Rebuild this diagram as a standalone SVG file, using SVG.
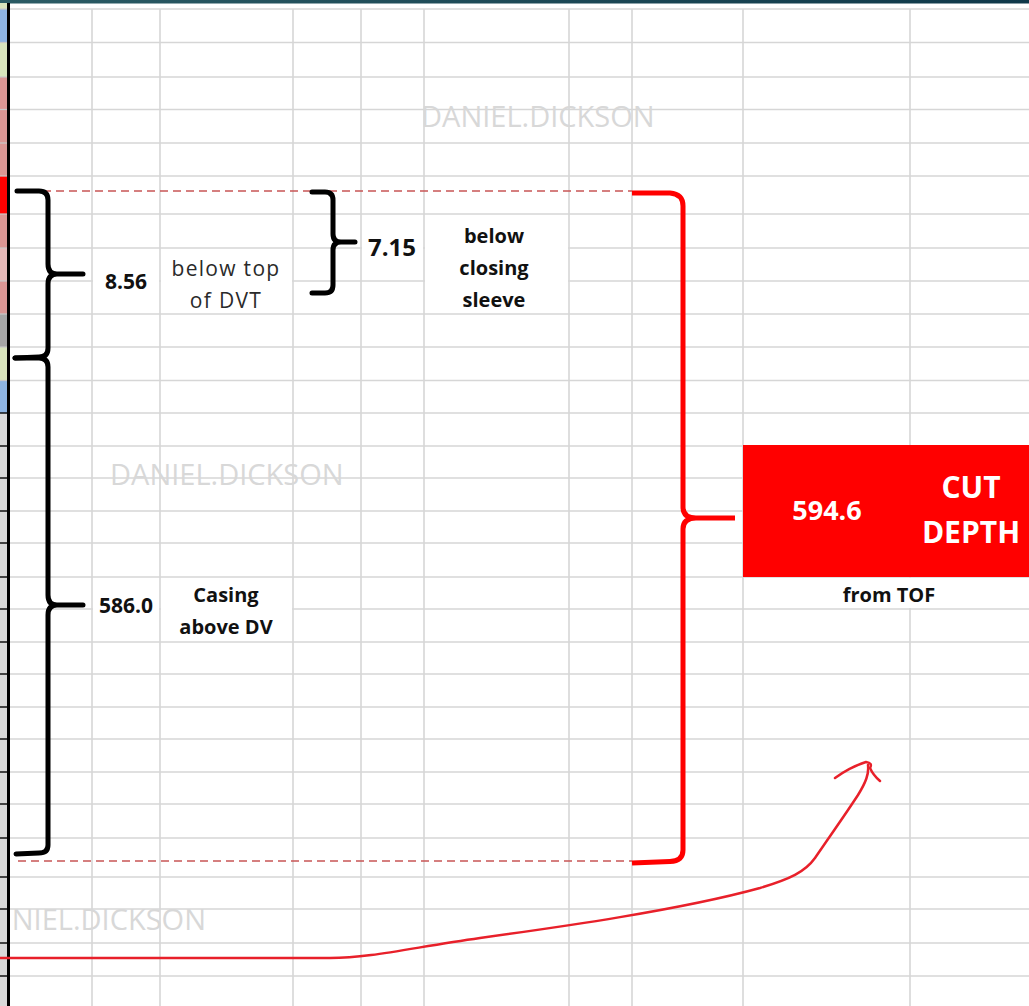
<svg xmlns="http://www.w3.org/2000/svg" width="1029" height="1006" viewBox="0 0 1029 1006">
<defs>
<linearGradient id="topbar" x1="0" y1="0" x2="1" y2="0">
<stop offset="0" stop-color="#2b5b64"/>
<stop offset="1" stop-color="#0f3849"/>
</linearGradient>
</defs>
<style>
.grid line{stroke:#d6d6d6;stroke-width:1.6}
.brk{fill:none;stroke:#000;stroke-width:5;stroke-linecap:round;stroke-linejoin:round}
.rbrk{fill:none;stroke:#ff0000;stroke-width:5;stroke-linecap:butt;stroke-linejoin:round}
.dash{fill:none;stroke:#c85656;stroke-width:1.6;stroke-dasharray:8 5}
.arrow{fill:none;stroke:#e8202a;stroke-width:2.5;stroke-linecap:round;stroke-linejoin:round}
.b{font-family:"Open Sans","Liberation Sans",sans-serif;font-weight:bold;fill:#111}
.r{font-family:"Open Sans","Liberation Sans",sans-serif;font-weight:normal;fill:#2a2a2a;letter-spacing:1.3px}
.w{font-family:"Open Sans","Liberation Sans",sans-serif;font-weight:bold;fill:#fff}
.wm{font-family:"Open Sans","Liberation Sans",sans-serif;font-size:29px;fill:#d8d8d8}
.c{text-anchor:middle}
</style>
<rect x="0" y="0" width="1029" height="1006" fill="#fff"/>
<g id="grid" class="grid">
<line x1="10" y1="9" x2="1029" y2="9"/>
<line x1="10" y1="42.5" x2="1029" y2="42.5"/>
<line x1="10" y1="77" x2="1029" y2="77"/>
<line x1="10" y1="109.5" x2="1029" y2="109.5"/>
<line x1="10" y1="143" x2="1029" y2="143"/>
<line x1="10" y1="176" x2="1029" y2="176"/>
<line x1="10" y1="214" x2="1029" y2="214"/>
<line x1="10" y1="248" x2="1029" y2="248"/>
<line x1="10" y1="281" x2="1029" y2="281"/>
<line x1="10" y1="314" x2="1029" y2="314"/>
<line x1="10" y1="347" x2="1029" y2="347"/>
<line x1="10" y1="380.5" x2="1029" y2="380.5"/>
<line x1="10" y1="413" x2="1029" y2="413"/>
<line x1="10" y1="446" x2="1029" y2="446"/>
<line x1="10" y1="478" x2="1029" y2="478"/>
<line x1="10" y1="511" x2="1029" y2="511"/>
<line x1="10" y1="543" x2="1029" y2="543"/>
<line x1="10" y1="577" x2="1029" y2="577"/>
<line x1="10" y1="609" x2="1029" y2="609"/>
<line x1="10" y1="642" x2="1029" y2="642"/>
<line x1="10" y1="674" x2="1029" y2="674"/>
<line x1="10" y1="707" x2="1029" y2="707"/>
<line x1="10" y1="739" x2="1029" y2="739"/>
<line x1="10" y1="772" x2="1029" y2="772"/>
<line x1="10" y1="804" x2="1029" y2="804"/>
<line x1="10" y1="838" x2="1029" y2="838"/>
<line x1="10" y1="877" x2="1029" y2="877"/>
<line x1="10" y1="909" x2="1029" y2="909"/>
<line x1="10" y1="943" x2="1029" y2="943"/>
<line x1="10" y1="976" x2="1029" y2="976"/>
<line x1="92" y1="9" x2="92" y2="1006"/>
<line x1="160" y1="9" x2="160" y2="1006"/>
<line x1="293" y1="9" x2="293" y2="1006"/>
<line x1="361" y1="9" x2="361" y2="1006"/>
<line x1="424" y1="9" x2="424" y2="1006"/>
<line x1="569" y1="9" x2="569" y2="1006"/>
<line x1="632" y1="9" x2="632" y2="1006"/>
<line x1="743" y1="9" x2="743" y2="1006"/>
<line x1="910" y1="9" x2="910" y2="1006"/>
</g>
<g id="merged-cells" fill="#fff">
<rect x="93" y="249" width="66" height="64"/>
<rect x="161" y="249" width="131" height="64"/>
<rect x="362" y="215" width="61" height="65"/>
<rect x="425" y="215" width="143" height="98"/>
<rect x="93" y="578" width="66" height="63"/>
<rect x="161" y="578" width="131" height="63"/>
<rect x="744" y="578" width="285" height="30"/>
</g>
<g id="top-bar"><rect x="0" y="0" width="1029" height="3.5" fill="url(#topbar)"/></g>
<g id="watermarks">
<text class="wm" x="421" y="127">DANIEL.DICKSON</text>
<text class="wm" x="110" y="485">DANIEL.DICKSON</text>
<text class="wm" x="206" y="930" text-anchor="end">NIEL.DICKSON</text>
</g>
<g id="left-strip">
<rect x="0" y="3" width="8" height="6" fill="#d8e4bc"/>
<rect x="0" y="9" width="8" height="33.5" fill="#8db4e2"/>
<rect x="0" y="42.5" width="8" height="34.5" fill="#d8e4bc"/>
<rect x="0" y="77" width="8" height="99" fill="#da9694"/>
<rect x="0" y="176" width="8" height="38" fill="#ff0000"/>
<rect x="0" y="214" width="8" height="34" fill="#da9694"/>
<rect x="0" y="248" width="8" height="33" fill="#e6b8b7"/>
<rect x="0" y="281" width="8" height="33" fill="#da9694"/>
<rect x="0" y="314" width="8" height="33" fill="#a6a6a6"/>
<rect x="0" y="347" width="8" height="33.5" fill="#d8e4bc"/>
<rect x="0" y="380.5" width="8" height="32.5" fill="#8db4e2"/>
<rect x="0" y="413" width="8" height="593" fill="#d9d9d9"/>
<g stroke="#c8c8c8" stroke-width="1.2">
<line x1="0" y1="9" x2="8" y2="9"/><line x1="0" y1="42.5" x2="8" y2="42.5"/><line x1="0" y1="77" x2="8" y2="77"/>
<line x1="0" y1="109.5" x2="8" y2="109.5"/><line x1="0" y1="143" x2="8" y2="143"/><line x1="0" y1="176" x2="8" y2="176"/>
<line x1="0" y1="214" x2="8" y2="214"/><line x1="0" y1="248" x2="8" y2="248"/><line x1="0" y1="281" x2="8" y2="281"/>
<line x1="0" y1="314" x2="8" y2="314"/><line x1="0" y1="347" x2="8" y2="347"/><line x1="0" y1="380.5" x2="8" y2="380.5"/>
</g>
<g stroke="#111" stroke-width="1.5">
<line x1="0" y1="413" x2="8" y2="413"/><line x1="0" y1="446" x2="8" y2="446"/><line x1="0" y1="478" x2="8" y2="478"/>
<line x1="0" y1="511" x2="8" y2="511"/><line x1="0" y1="543" x2="8" y2="543"/><line x1="0" y1="577" x2="8" y2="577"/>
<line x1="0" y1="609" x2="8" y2="609"/><line x1="0" y1="642" x2="8" y2="642"/><line x1="0" y1="674" x2="8" y2="674"/>
<line x1="0" y1="707" x2="8" y2="707"/><line x1="0" y1="739" x2="8" y2="739"/><line x1="0" y1="772" x2="8" y2="772"/>
<line x1="0" y1="804" x2="8" y2="804"/><line x1="0" y1="838" x2="8" y2="838"/><line x1="0" y1="877" x2="8" y2="877"/>
<line x1="0" y1="909" x2="8" y2="909"/><line x1="0" y1="943" x2="8" y2="943"/><line x1="0" y1="976" x2="8" y2="976"/>
</g>
<rect x="7" y="3" width="3" height="1003" fill="#000"/>
</g>
<g id="guides">
<path class="dash" d="M17,191 H632"/>
<path class="dash" d="M18,861 H632"/>
</g>
<g id="brackets">
<path id="bracket-856" class="brk" d="M17,191 L39,191 Q48,191 48,200 L48,264 Q48,274 57,274 L83,274 M57,274 Q48,274 48,284 L48,348 Q48,357 39,357 L15,358"/>
<path id="bracket-5860" class="brk" d="M15,358 L39,358 Q48,358 48,367 L48,595 Q48,605 57,605 L83,605 M57,605 Q48,605 48,615 L48,845 Q48,853 39,853 L16,854"/>
<path id="bracket-715" class="brk" d="M312,192 L325,192 Q333,192 333,200 L333,234 Q333,242 341,242 L355,242 M341,242 Q333,242 333,250 L333,285 Q333,293 325,293 L312,293"/>
<path id="bracket-cut" class="rbrk" d="M632,193 L670,193 Q683,194 683,206 L683,507 Q683,518 696,518 L735,518 M696,518 Q683,518 683,529 L683,850 Q683,861 670,861.5 L632,863"/>
</g>
<g id="label-856"><text class="b" x="105" y="289" font-size="21">8.56</text></g>
<g id="label-below-top"><text class="r c" x="226" y="276" font-size="21">below top</text><text class="r c" x="226" y="308" font-size="21">of DVT</text></g>
<g id="label-715"><text class="b" x="368" y="256" font-size="24">7.15</text></g>
<g id="label-closing-sleeve">
<text class="b c" x="494" y="243" font-size="20">below</text>
<text class="b c" x="494" y="275" font-size="20">closing</text>
<text class="b c" x="494" y="307" font-size="20">sleeve</text>
</g>
<g id="label-5860"><text class="b" x="99" y="613" font-size="21">586.0</text></g>
<g id="label-casing"><text class="b c" x="226" y="602" font-size="20">Casing</text><text class="b c" x="226" y="634" font-size="20">above DV</text></g>
<g id="cut-depth">
<rect x="743" y="445" width="286" height="132" fill="#ff0000"/>
<text class="w c" x="827" y="520" font-size="27">594.6</text>
<text class="w c" x="971" y="498" font-size="30">CUT</text>
<text class="w c" x="971" y="543" font-size="30">DEPTH</text>
</g>
<g id="label-from-tof"><text class="b c" x="889" y="602" font-size="20">from TOF</text></g>
<g id="connectors">
<path class="arrow" d="M0,958 L330,958 C370,958 410,948 480,938 C560,927 680,910 760,888 C790,879 805,872 815,858 C830,836 845,815 858,795 C866,782 869,774 868,765"/>
<path class="arrow" d="M835,778 Q850,767 866,762 Q873,763 870,768 Q873,775 880,781"/>
</g>
</svg>
